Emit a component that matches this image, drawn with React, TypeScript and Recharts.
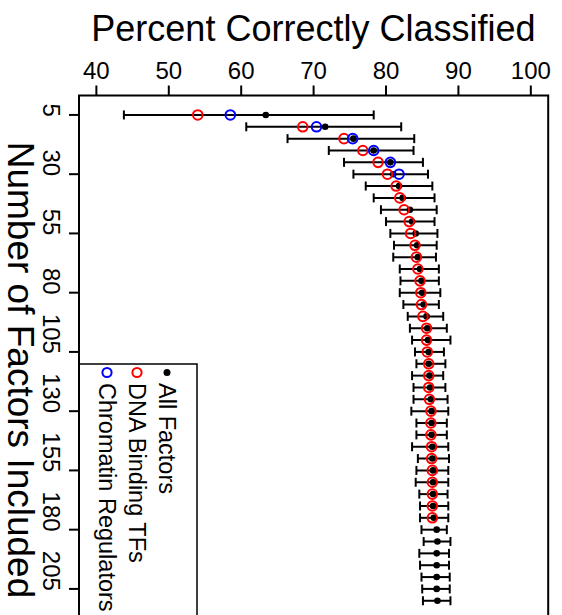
import { ScatterChart, Scatter, XAxis, YAxis, ErrorBar, ReferenceArea, Legend, Label } from "recharts"

const FONT = '"Liberation Sans", Arial, Helvetica, sans-serif'

// number of factors included (one row per model size)
const factorCounts = [
  5, 10, 15, 20, 25, 30, 35, 40, 45, 50, 55, 60, 65, 70, 75, 80, 85, 90, 95, 100, 105,
  110, 115, 120, 125, 130, 135, 140, 145, 150, 155, 160, 165, 170, 175, 180, 185, 190,
  195, 200, 205, 210,
]

// all factors: mean and interval ends
const allMean = [
  63.4, 71.6, 75.5, 78.3, 80.6, 81.0, 81.8, 82.3, 83.3, 83.6, 84.1, 84.3, 84.4, 84.7, 84.9,
  85.0, 85.2, 85.6, 85.7, 85.8, 85.9, 85.9, 86.0, 86.1, 86.2, 86.3, 86.3, 86.3, 86.4, 86.4,
  86.5, 86.5, 86.5, 86.5, 86.6, 87.0, 87.1, 87.0, 87.0, 87.0, 87.0, 87.1,
]
const allLow = [
  43.8, 60.7, 66.4, 72.1, 74.2, 75.5, 77.2, 78.3, 79.3, 80.0, 80.6, 81.1, 81.0, 81.9, 82.0,
  81.9, 82.4, 83.0, 83.3, 83.6, 84.0, 84.2, 83.6, 83.8, 83.8, 83.5, 84.2, 84.2, 83.6, 84.4,
  84.2, 84.1, 84.6, 84.7, 84.7, 84.9, 85.2, 84.6, 84.7, 84.9, 85.0, 85.1,
]
const allHigh = [
  78.3, 82.1, 83.9, 83.8, 85.1, 85.8, 86.4, 86.7, 87.0, 86.7, 87.1, 87.0, 86.9, 87.3, 87.3,
  87.5, 87.3, 87.9, 88.4, 88.9, 88.0, 88.2, 87.9, 88.2, 88.5, 88.6, 88.4, 88.4, 88.6, 88.7,
  88.6, 88.6, 88.5, 88.6, 88.6, 88.4, 88.9, 88.7, 88.7, 88.8, 88.8, 88.9,
]

// DNA binding TFs (5..175)
const dnaBindingTFs = [
  54.0, 68.5, 74.2, 76.8, 78.9, 80.2, 81.4, 81.9, 82.5, 83.2, 83.4, 84.0, 84.2, 84.4, 84.7,
  84.8, 84.9, 85.1, 85.6, 85.6, 85.7, 85.9, 85.9, 85.9, 86.0, 86.2, 86.2, 86.2, 86.3, 86.3,
  86.4, 86.4, 86.4, 86.4, 86.4,
]

// chromatin regulators (5..30)
const chromatinRegulators = [58.5, 70.4, 75.4, 78.3, 80.6, 81.8]

const percentTicks = [40, 50, 60, 70, 80, 90, 100]
const factorTicks = [5, 30, 55, 80, 105, 130, 155, 180, 205]

const allData = factorCounts.map((n, i) => ({
  n,
  pct: allMean[i],
  err: [allMean[i] - allLow[i], allHigh[i] - allMean[i]],
}))
const dnaData = dnaBindingTFs.map((pct, i) => ({ n: factorCounts[i], pct }))
const chromData = chromatinRegulators.map((pct, i) => ({ n: factorCounts[i], pct }))

function PercentTick({ x, y, payload }: any) {
  return (
    <text x={x} y={y - 5} textAnchor="middle" fontSize={24} fontFamily={FONT} fill="#000">
      {payload.value}
    </text>
  )
}

function FactorTick({ x, y, payload }: any) {
  return (
    <text
      transform={`translate(${x - 24},${y + 2}) rotate(90)`}
      textAnchor="end"
      fontSize={24}
      fontFamily={FONT}
      fill="#000"
    >
      {payload.value}
    </text>
  )
}

function LegendBox() {
  const rows = [
    { label: "All Factors", kind: "dot", color: "#000" },
    { label: "DNA Binding TFs", kind: "ring", color: "#ff0000" },
    { label: "Chromatin Regulators", kind: "ring", color: "#0000ff" },
  ]
  return (
    <svg width={120} height={260} style={{ display: "block" }}>
      <path d="M0 1 H118 V260" stroke="#000" strokeWidth={1.5} fill="none" />
      {rows.map((r, i) => {
        const bx = 80 - i * 30
        return (
          <g key={r.label}>
            {r.kind === "dot" ? (
              <circle cx={bx + 8} cy={9.5} r={3.5} fill={r.color} />
            ) : (
              <circle cx={bx + 8} cy={9.5} r={4.6} fill="none" stroke={r.color} strokeWidth={2} />
            )}
            <text
              transform={`translate(${bx},20) rotate(90)`}
              fontSize={23.5}
              fontFamily={FONT}
              fill="#000"
            >
              {r.label}
            </text>
          </g>
        )
      })}
    </svg>
  )
}

export default function App() {
  return (
    <div
      style={{
        position: "absolute",
        left: 0,
        top: 0,
        width: 562,
        height: 615,
        overflow: "hidden",
        background: "#fff",
      }}
    >
      <ScatterChart width={562} height={630} margin={{ top: 35.5, right: 13.8, bottom: 9.8, left: 0 }}>
        <XAxis
          type="number"
          dataKey="pct"
          orientation="top"
          domain={[37.6, 102.4]}
          ticks={percentTicks}
          allowDataOverflow
          height={60}
          axisLine={false}
          tickSize={10}
          tickLine={{ stroke: "#000", strokeWidth: 2 }}
          tick={<PercentTick />}
        >
          <Label
            content={() => (
              <text x={313.4} y={41} textAnchor="middle" fontSize={36} fontFamily={FONT} fill="#000">
                Percent Correctly Classified
              </text>
            )}
          />
        </XAxis>
        <YAxis
          type="number"
          dataKey="n"
          reversed
          domain={[-3.2, 218.2]}
          ticks={factorTicks}
          allowDataOverflow
          width={79}
          axisLine={false}
          tickSize={10}
          tickLine={{ stroke: "#000", strokeWidth: 2 }}
          tick={<FactorTick />}
        >
          <Label
            content={() => (
              <text
                transform="translate(8,370) rotate(90)"
                textAnchor="middle"
                fontSize={37}
                fontFamily={FONT}
                fill="#000"
              >
                Number of Factors Included
              </text>
            )}
          />
        </YAxis>
        <ReferenceArea
          x1={37.6}
          x2={102.4}
          y1={-3.2}
          y2={218.2}
          fill="none"
          stroke="#000"
          strokeWidth={2}
          ifOverflow="visible"
        />
        <Scatter
          name="All Factors"
          data={allData}
          isAnimationActive={false}
          shape={(p: any) => <circle cx={p.cx} cy={p.cy} r={3.3} fill="#000" />}
        >
          <ErrorBar dataKey="err" direction="x" width={4.5} stroke="#000" strokeWidth={2} />
        </Scatter>
        <Scatter
          name="DNA Binding TFs"
          data={dnaData}
          isAnimationActive={false}
          shape={(p: any) => <circle cx={p.cx} cy={p.cy} r={4.8} fill="none" stroke="#ff0000" strokeWidth={2} />}
        />
        <Scatter
          name="Chromatin Regulators"
          data={chromData}
          isAnimationActive={false}
          shape={(p: any) => <circle cx={p.cx} cy={p.cy} r={4.8} fill="none" stroke="#0000ff" strokeWidth={2} />}
        />
        <Legend
          layout="vertical"
          align="center"
          verticalAlign="middle"
          wrapperStyle={{ left: 79, top: 363, width: 120, height: 260 }}
          content={() => <LegendBox />}
        />
      </ScatterChart>
    </div>
  )
}
